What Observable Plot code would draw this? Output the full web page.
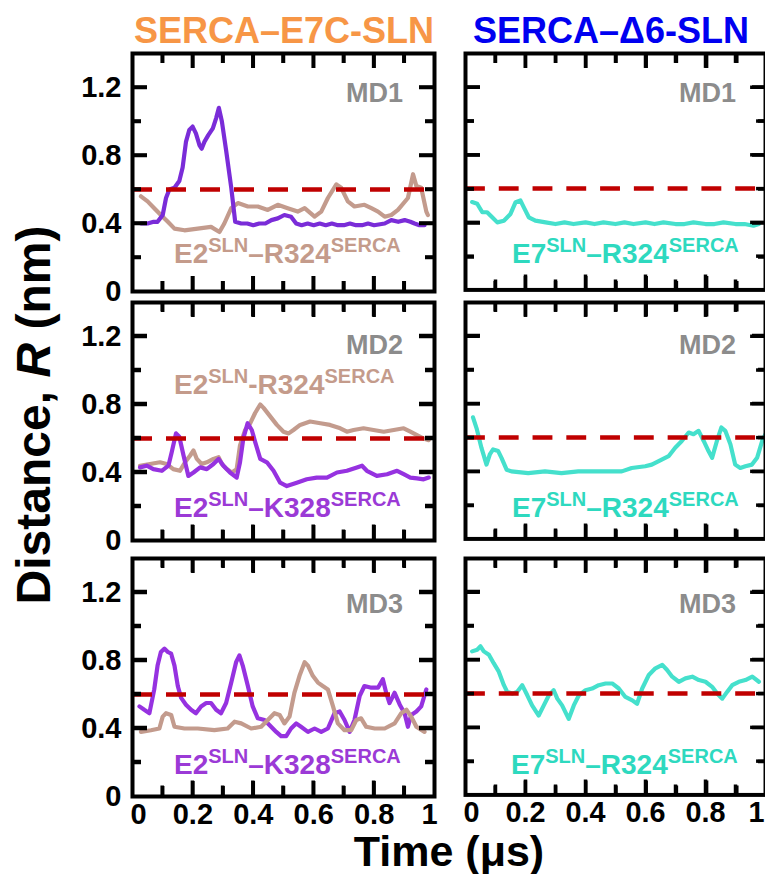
<!DOCTYPE html>
<html>
<head>
<meta charset="utf-8">
<script src="https://cdn.jsdelivr.net/npm/d3@7"></script>
<script src="https://cdn.jsdelivr.net/npm/@observablehq/plot@0.6"></script>
<style>
  html, body { margin: 0; padding: 0; background: #ffffff; }
  #fig { position: relative; width: 765px; height: 874px; overflow: hidden; background: #fff; }
  .panel { position: absolute; }
  .panel svg { overflow: visible; display: block; }
</style>
</head>
<body>
<div id="fig"></div>
<script>
// ---------------- data (time in µs, distance R in nm) ----------------
const columnTitles = ["SERCA\u2013E7C-SLN", "SERCA\u2013\u03946-SLN"];
const runNames = ["MD1", "MD2", "MD3"];
const threshold = 0.6;
const xMajorTicks = [0.2, 0.4, 0.6, 0.8];
const xMinorTicks = [0.1, 0.3, 0.5, 0.7, 0.9];
const xEndTicks = [0, 1];
const yMajorTicks = [0, 0.4, 0.8, 1.2];
const yMinorTicks = [0.2, 0.6, 1.0];

// SERCA–E7C-SLN, MD1
const md1_E2R324_t = [0.028,0.050,0.072,0.094,0.117,0.139,0.172,0.216,0.260,0.288,0.304,0.327,0.349,0.382,0.415,0.448,0.481,0.514,0.547,0.570,0.603,0.625,0.647,0.675,0.691,0.713,0.735,0.768,0.791,0.813,0.835,0.857,0.879,0.912,0.929,0.940,0.956,0.973,0.978];
const md1_E2R324_r = [0.56,0.53,0.49,0.45,0.41,0.37,0.36,0.37,0.38,0.35,0.40,0.49,0.52,0.50,0.50,0.48,0.51,0.49,0.47,0.49,0.44,0.47,0.55,0.63,0.61,0.53,0.50,0.51,0.49,0.47,0.44,0.45,0.48,0.55,0.69,0.62,0.61,0.47,0.45];
const md1_E2K328_t = [0.028,0.05,0.07,0.083,0.1,0.111,0.122,0.139,0.155,0.166,0.177,0.188,0.199,0.21,0.222,0.229,0.238,0.251,0.266,0.277,0.286,0.296,0.31,0.327,0.34,0.36,0.38,0.40,0.42,0.44,0.46,0.481,0.503,0.525,0.542,0.56,0.58,0.60,0.62,0.64,0.66,0.68,0.70,0.72,0.74,0.76,0.78,0.80,0.835,0.857,0.88,0.901,0.92,0.934,0.95,0.967];
const md1_E2K328_r = [0.40,0.40,0.41,0.41,0.45,0.55,0.60,0.61,0.65,0.73,0.88,0.95,0.97,0.93,0.86,0.84,0.88,0.92,0.96,1.02,1.08,1.00,0.83,0.61,0.41,0.40,0.40,0.39,0.40,0.40,0.42,0.43,0.45,0.44,0.40,0.39,0.40,0.39,0.40,0.39,0.40,0.39,0.39,0.40,0.39,0.39,0.40,0.39,0.40,0.42,0.41,0.42,0.41,0.40,0.39,0.39];
// SERCA–E7C-SLN, MD2
const md2_E2R324_t = [0.025,0.058,0.091,0.113,0.135,0.157,0.174,0.191,0.202,0.213,0.229,0.246,0.268,0.285,0.296,0.312,0.329,0.345,0.356,0.373,0.390,0.406,0.423,0.434,0.456,0.478,0.500,0.517,0.533,0.555,0.588,0.622,0.654,0.688,0.710,0.732,0.765,0.798,0.832,0.865,0.898,0.920,0.942,0.964,0.981];
const md2_E2R324_r = [0.44,0.45,0.46,0.45,0.42,0.41,0.46,0.50,0.53,0.48,0.45,0.46,0.48,0.49,0.45,0.42,0.40,0.42,0.56,0.65,0.69,0.75,0.80,0.78,0.73,0.68,0.64,0.63,0.65,0.68,0.70,0.69,0.68,0.66,0.64,0.65,0.66,0.65,0.64,0.65,0.66,0.64,0.62,0.60,0.59];
const md2_E2K328_t = [0.025,0.047,0.069,0.097,0.119,0.130,0.144,0.155,0.169,0.185,0.202,0.224,0.246,0.268,0.285,0.301,0.323,0.345,0.356,0.367,0.381,0.395,0.406,0.423,0.445,0.467,0.489,0.511,0.544,0.577,0.610,0.644,0.677,0.710,0.743,0.760,0.776,0.809,0.843,0.876,0.898,0.920,0.942,0.964,0.981];
const md2_E2K328_r = [0.43,0.44,0.42,0.41,0.44,0.52,0.63,0.61,0.50,0.38,0.40,0.43,0.42,0.45,0.48,0.44,0.40,0.37,0.46,0.60,0.69,0.65,0.58,0.48,0.46,0.41,0.34,0.32,0.34,0.36,0.37,0.37,0.40,0.41,0.43,0.44,0.41,0.38,0.39,0.41,0.39,0.37,0.365,0.36,0.37];
// SERCA–E7C-SLN, MD3
const md3_E2R324_t = [0.028,0.061,0.089,0.100,0.111,0.128,0.139,0.172,0.216,0.271,0.315,0.338,0.360,0.393,0.426,0.448,0.470,0.487,0.503,0.520,0.536,0.553,0.570,0.581,0.597,0.614,0.630,0.647,0.664,0.680,0.702,0.724,0.741,0.757,0.774,0.802,0.835,0.868,0.890,0.907,0.923,0.940,0.967];
const md3_E2R324_r = [0.38,0.39,0.40,0.47,0.49,0.48,0.41,0.40,0.40,0.39,0.40,0.44,0.43,0.40,0.41,0.45,0.49,0.48,0.43,0.47,0.61,0.71,0.79,0.77,0.71,0.67,0.65,0.63,0.53,0.43,0.39,0.39,0.45,0.46,0.41,0.40,0.40,0.43,0.49,0.51,0.47,0.41,0.38];
const md3_E2K328_t = [0.023,0.039,0.056,0.072,0.083,0.094,0.106,0.117,0.128,0.139,0.150,0.161,0.177,0.194,0.210,0.227,0.244,0.260,0.277,0.293,0.310,0.327,0.343,0.354,0.365,0.382,0.398,0.415,0.437,0.459,0.476,0.492,0.509,0.525,0.542,0.558,0.581,0.603,0.625,0.647,0.669,0.686,0.702,0.719,0.735,0.752,0.768,0.791,0.813,0.829,0.840,0.851,0.868,0.885,0.901,0.912,0.923,0.940,0.956,0.973];
const md3_E2K328_r = [0.53,0.51,0.49,0.63,0.77,0.85,0.87,0.85,0.84,0.77,0.65,0.58,0.54,0.51,0.49,0.53,0.55,0.55,0.51,0.49,0.55,0.67,0.79,0.83,0.77,0.65,0.53,0.46,0.45,0.41,0.38,0.355,0.355,0.40,0.43,0.41,0.38,0.40,0.38,0.40,0.49,0.50,0.45,0.38,0.45,0.59,0.65,0.64,0.64,0.69,0.61,0.55,0.61,0.54,0.49,0.41,0.48,0.50,0.53,0.63];
// SERCA–Δ6-SLN, E7–R324
const md1_E7R324_t = [0.022,0.039,0.056,0.072,0.089,0.106,0.128,0.150,0.167,0.183,0.194,0.211,0.233,0.267,0.30,0.33,0.36,0.40,0.43,0.46,0.50,0.53,0.56,0.60,0.63,0.66,0.70,0.73,0.76,0.80,0.83,0.86,0.90,0.93,0.96,0.978];
const md1_E7R324_r = [0.52,0.51,0.46,0.46,0.43,0.40,0.41,0.45,0.52,0.53,0.49,0.43,0.41,0.40,0.39,0.40,0.39,0.40,0.39,0.40,0.39,0.40,0.39,0.40,0.39,0.40,0.39,0.39,0.40,0.39,0.39,0.40,0.39,0.39,0.38,0.39];
const md2_E7R324_t = [0.025,0.037,0.053,0.070,0.081,0.092,0.109,0.120,0.137,0.153,0.209,0.265,0.320,0.376,0.432,0.488,0.521,0.554,0.599,0.621,0.654,0.677,0.699,0.721,0.744,0.760,0.777,0.794,0.810,0.822,0.838,0.853,0.866,0.883,0.899,0.916,0.933,0.955,0.972,0.989,1.0];
const md2_E7R324_r = [0.72,0.655,0.54,0.44,0.50,0.53,0.52,0.48,0.41,0.40,0.39,0.40,0.39,0.40,0.40,0.40,0.40,0.42,0.43,0.44,0.47,0.49,0.54,0.58,0.63,0.62,0.64,0.58,0.52,0.48,0.58,0.66,0.64,0.56,0.44,0.42,0.43,0.44,0.48,0.58,0.62];
const md3_E7R324_t = [0.022,0.039,0.050,0.061,0.078,0.094,0.111,0.128,0.139,0.156,0.172,0.189,0.206,0.222,0.244,0.261,0.278,0.294,0.306,0.322,0.344,0.361,0.378,0.400,0.422,0.444,0.467,0.489,0.511,0.533,0.556,0.572,0.589,0.611,0.633,0.656,0.672,0.689,0.711,0.733,0.756,0.778,0.800,0.822,0.839,0.856,0.872,0.889,0.911,0.933,0.956,0.978];
const md3_E7R324_r = [0.85,0.86,0.88,0.85,0.83,0.78,0.73,0.65,0.61,0.60,0.61,0.65,0.59,0.53,0.47,0.53,0.59,0.62,0.57,0.53,0.45,0.53,0.59,0.62,0.63,0.65,0.66,0.66,0.63,0.58,0.56,0.54,0.63,0.71,0.75,0.77,0.74,0.70,0.67,0.69,0.70,0.68,0.67,0.64,0.60,0.57,0.61,0.65,0.67,0.68,0.70,0.67];

// ---------------- styling ----------------
const FONT = "Liberation Sans, Arial, Helvetica, sans-serif";
const TAN = "#c39b8d", TAN_L = "#c49b8b";
const PURPLE1 = "#7a2cd8", PURPLE = "#9632e0", PURPLE_L = "#9b3ad6";
const TURQ = "#45e0cc", TURQ_L = "#2ed9bf";
const RED = "#c00000", GRAY = "#8c8c8c";
const TITLE_COLORS = ["#f79646", "#0000f0"];

const colX = [132, 465];
const rowY = [53, 301.5, 557.5];
const PW = 302, PH = 238;

const lblE2R324 = [["E2",0],["SLN",1],["\u2013R324",0],["SERCA",1]];
const lblE2R324h = [["E2",0],["SLN",1],["-R324",0],["SERCA",1]];
const lblE2K328 = [["E2",0],["SLN",1],["\u2013K328",0],["SERCA",1]];
const lblE7R324 = [["E7",0],["SLN",1],["\u2013R324",0],["SERCA",1]];

const panels = [
  {row:0, col:0, series:[[md1_E2R324_t, md1_E2R324_r, TAN], [md1_E2K328_t, md1_E2K328_r, PURPLE1]],
   labels:[{parts:lblE2R324, color:TAN_L, x:174, y:263}]},
  {row:0, col:1, series:[[md1_E7R324_t, md1_E7R324_r, TURQ]],
   labels:[{parts:lblE7R324, color:TURQ_L, x:512, y:263}]},
  {row:1, col:0, series:[[md2_E2R324_t, md2_E2R324_r, TAN], [md2_E2K328_t, md2_E2K328_r, PURPLE]],
   labels:[{parts:lblE2R324h, color:TAN_L, x:174, y:394}, {parts:lblE2K328, color:PURPLE_L, x:174, y:517}]},
  {row:1, col:1, series:[[md2_E7R324_t, md2_E7R324_r, TURQ]],
   labels:[{parts:lblE7R324, color:TURQ_L, x:512, y:517}]},
  {row:2, col:0, series:[[md3_E2K328_t, md3_E2K328_r, PURPLE], [md3_E2R324_t, md3_E2R324_r, TAN]],
   labels:[{parts:lblE2K328, color:PURPLE_L, x:174, y:774}]},
  {row:2, col:1, series:[[md3_E7R324_t, md3_E7R324_r, TURQ]],
   labels:[{parts:lblE7R324, color:TURQ_L, x:511, y:774}]}
];

const fig = document.getElementById("fig");
const fmt = d => String(d);

// inward tick marks drawn as short rules next to one side of the frame
function inwardTicks(ticks, side, size) {
  const o = {stroke: "#000000", strokeWidth: 3.5};
  if (side === "bottom") return Plot.ruleX(ticks, {...o, x: d => d, insetTop: PH - size});
  if (side === "top") return Plot.ruleX(ticks, {...o, x: d => d, insetBottom: PH - size});
  if (side === "left") return Plot.ruleY(ticks, {...o, y: d => d, insetRight: PW - size});
  return Plot.ruleY(ticks, {...o, y: d => d, insetLeft: PW - size});
}

const charts = [];
for (const p of panels) {
  const marks = [];
  for (const [ts, rs, c] of p.series) {
    const data = ts.map((t, i) => ({t, r: rs[i]}));
    marks.push(Plot.line(data, {x: "t", y: "r", stroke: c, strokeWidth: 4.2, strokeLinejoin: "round", strokeLinecap: "round"}));
  }
  marks.push(Plot.ruleY([threshold], {stroke: RED, strokeWidth: 4.5, strokeDasharray: "20,14"}));
  for (const side of ["bottom", "top"]) {
    marks.push(inwardTicks(xMajorTicks, side, 15));
    marks.push(inwardTicks(xMinorTicks, side, 10));
  }
  for (const side of ["left", "right"]) {
    marks.push(inwardTicks(yMajorTicks.slice(1), side, 15));
    marks.push(inwardTicks(yMinorTicks, side, 9));
  }
  marks.push(Plot.frame({stroke: "#000000", strokeWidth: 4}));
  const textOpts = {tickSize: 0, label: null, tickFormat: fmt, fontSize: 29, fontWeight: "bold", fill: "black"};
  if (p.col === 0) {
    marks.push(Plot.axisY(yMajorTicks, {anchor: "left", tickPadding: 11, ...textOpts}));
  }
  if (p.row === 2) {
    marks.push(Plot.axisX(xMajorTicks, {anchor: "bottom", tickPadding: 7, ...textOpts}));
    marks.push(Plot.axisX([xEndTicks[0]], {anchor: "bottom", tickPadding: 7, dx: 6, ...textOpts}));
    marks.push(Plot.axisX([xEndTicks[1]], {anchor: "bottom", tickPadding: 7, dx: p.col === 1 ? -9 : -5, ...textOpts}));
  }
  const chart = Plot.plot({
    width: PW, height: PH,
    marginTop: 0, marginRight: 0, marginBottom: 0, marginLeft: 0,
    x: {domain: [0, 1], axis: null, label: null},
    y: {domain: [0, 1.4], axis: null, label: null},
    style: {overflow: "visible", fontFamily: FONT},
    marks
  });
  const div = document.createElement("div");
  div.className = "panel";
  div.style.left = colX[p.col] + "px";
  div.style.top = rowY[p.row] + "px";
  div.appendChild(chart);
  fig.appendChild(div);
  charts.push({p, chart});
}

// ---------------- overlay ----------------
const svg = d3.select(fig).append("svg")
  .attr("width", 765).attr("height", 874)
  .style("position", "absolute").style("left", "0px").style("top", "0px")
  .style("pointer-events", "none")
  .attr("font-family", FONT).attr("font-weight", "bold");

// frame ticks again, placed with each panel's own Plot scales (guarantees they show on top)
for (const {p, chart} of charts) {
  let sx, sy;
  try { const X = chart.scale("x"), Y = chart.scale("y"); sx = v => X.apply(v); sy = v => Y.apply(v); }
  catch (e) { sx = d3.scaleLinear([0, 1], [0, PW]); sy = d3.scaleLinear([0, 1.4], [PH, 0]); }
  const x0 = colX[p.col], y0 = rowY[p.row];
  const g = svg.append("g").attr("stroke", "#000").attr("stroke-width", 3.5);
  const seg = (xa, ya, xb, yb) => g.append("line").attr("x1", xa).attr("y1", ya).attr("x2", xb).attr("y2", yb);
  for (const [ticks, size] of [[xMajorTicks, 15], [xMinorTicks, 10]]) {
    for (const v of ticks) {
      const x = x0 + sx(v);
      seg(x, y0 + PH, x, y0 + PH - size);
      seg(x, y0, x, y0 + size);
    }
  }
  for (const [ticks, size] of [[yMajorTicks.slice(1), 15], [yMinorTicks, 9]]) {
    for (const v of ticks) {
      const y = y0 + sy(v);
      seg(x0, y, x0 + size, y);
      seg(x0 + PW, y, x0 + PW - size, y);
    }
  }
}

svg.append("text").attr("x", 284).attr("y", 43).attr("text-anchor", "middle")
  .attr("font-size", 36).attr("fill", TITLE_COLORS[0]).text(columnTitles[0]);
svg.append("text").attr("x", 611).attr("y", 43).attr("text-anchor", "middle")
  .attr("font-size", 36).attr("fill", TITLE_COLORS[1]).text(columnTitles[1]);

for (let r = 0; r < 3; r++) {
  const base = rowY[r] + [49, 52, 55][r];
  for (let c = 0; c < 2; c++) {
    svg.append("text").attr("x", colX[c] + PW - 31).attr("y", base)
      .attr("text-anchor", "end").attr("font-size", 27).attr("fill", GRAY).text(runNames[r]);
  }
}

for (const p of panels) {
  for (const L of p.labels) {
    const t = svg.append("text").attr("x", L.x).attr("y", L.y).attr("fill", L.color).attr("font-size", 28);
    let raised = false;
    for (const [s, sup] of L.parts) {
      const ts = t.append("tspan").text(s);
      if (sup && !raised) { ts.attr("font-size", 20).attr("dy", -11); raised = true; }
      else if (sup) { ts.attr("font-size", 20); }
      else if (!sup && raised) { ts.attr("dy", 11); raised = false; }
    }
  }
}

const yl = svg.append("text").attr("transform", "translate(50,415) rotate(-90)")
  .attr("text-anchor", "middle").attr("font-size", 48).attr("fill", "black");
yl.append("tspan").text("Distance, ");
yl.append("tspan").attr("font-style", "italic").text("R");
yl.append("tspan").text(" (nm)");

svg.append("text").attr("x", 449).attr("y", 866).attr("text-anchor", "middle")
  .attr("font-size", 43).attr("fill", "black").text("Time (\u03bcs)");
</script>
</body>
</html>
